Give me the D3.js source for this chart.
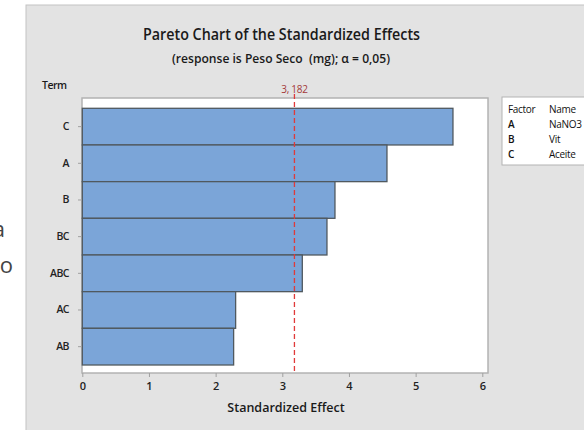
<!DOCTYPE html>
<html>
<head>
<meta charset="utf-8">
<script src="https://cdn.jsdelivr.net/npm/d3@7"></script>
<style>
  body { margin: 0; background: #fff; }
  svg { display: block; font-family: "Open Sans", "Noto Sans", sans-serif; }
</style>
</head>
<body>
<div id="chart"></div>
<script>
// data
var terms = ["C", "A", "B", "BC", "ABC", "AC", "AB"];
var effects = [5.56, 4.57, 3.79, 3.67, 3.30, 2.30, 2.27];
var xTicks = [0, 1, 2, 3, 4, 5, 6];
var critical = 3.182;
var factorCodes = ["A", "B", "C"];
var factorNames = ["NaNO3", "Vit", "Aceite"];

var W = 584, H = 430;
var plot = { left: 82, top: 98, right: 488, bottom: 373 };

var svg = d3.select("#chart").append("svg")
  .attr("width", W).attr("height", H);

// stray letters from the cropped screenshot at the left edge
svg.append("text").attr("x", 5).attr("y", 237).attr("text-anchor", "end")
  .style("font-size", "22px").style("fill", "#444").text("a");
svg.append("text").attr("x", 13).attr("y", 273).attr("text-anchor", "end")
  .style("font-size", "22px").style("fill", "#444").text("o");

// grey panel
svg.append("rect").attr("x", 26).attr("y", 5).attr("width", W).attr("height", H)
  .style("fill", "#e3e3e3").style("stroke", "#c4c4c4").style("stroke-width", 1);

// titles
svg.append("text").attr("x", 143).attr("y", 40)
  .attr("textLength", 277).attr("lengthAdjust", "spacingAndGlyphs")
  .style("font-size", "16.5px").style("font-weight", 600).style("fill", "#1a1a1a")
  .text("Pareto Chart of the Standardized Effects");
svg.append("text").attr("x", 172).attr("y", 63)
  .attr("textLength", 218).attr("lengthAdjust", "spacingAndGlyphs")
  .style("font-size", "12.5px").style("font-weight", 600).style("fill", "#1a1a1a")
  .style("white-space", "pre")
  .text("(response is Peso Seco  (mg); \u03b1 = 0,05)");

var x = d3.scaleLinear().domain([0, 6]).range([82.3, 482.3]);
var y = d3.scaleBand().domain(terms).range([108.3, 365]).padding(0);

// plot area
svg.append("rect")
  .attr("x", plot.left).attr("y", plot.top)
  .attr("width", plot.right - plot.left).attr("height", plot.bottom - plot.top)
  .style("fill", "#fff").style("stroke", "#b3b3b3").style("stroke-width", 1.5);

// bars
svg.selectAll("rect.bar")
  .data(terms)
  .enter()
  .append("rect")
  .attr("class", "bar")
  .attr("x", x(0))
  .attr("y", function (d) { return y(d); })
  .attr("width", function (d, i) { return x(effects[i]) - x(0); })
  .attr("height", y.bandwidth())
  .style("fill", "#7ba5d8")
  .style("stroke", "#50595f")
  .style("stroke-width", 1.3);

// reference line
svg.append("line")
  .attr("x1", x(critical)).attr("x2", x(critical))
  .attr("y1", plot.top - 4).attr("y2", plot.bottom)
  .style("stroke", "#e03a3a").style("stroke-width", 1.3)
  .style("stroke-dasharray", "5,3");
svg.append("text").attr("x", x(critical)).attr("y", 93).attr("text-anchor", "middle")
  .style("font-size", "10px").style("fill", "#a33a3a").style("letter-spacing", "-0.3px")
  .text("3, 182");

// x axis
var xAxis = svg.append("g")
  .attr("transform", "translate(0," + plot.bottom + ")")
  .call(d3.axisBottom(x).tickValues(xTicks).tickFormat(d3.format("d"))
    .tickSize(4).tickSizeOuter(0));
xAxis.select(".domain").remove();
xAxis.selectAll("line").style("stroke", "#a0a0a0");
xAxis.selectAll("text").attr("dy", "0.9em")
  .style("font-size", "11px").style("font-weight", 600).style("fill", "#222")
  .style("font-family", "'Open Sans', sans-serif");

// y axis
var yAxis = svg.append("g")
  .attr("transform", "translate(" + plot.left + ",0)")
  .call(d3.axisLeft(y).tickSize(4).tickPadding(9).tickSizeOuter(0));
yAxis.select(".domain").remove();
yAxis.selectAll("line").style("stroke", "#a0a0a0");
yAxis.selectAll("text")
  .style("font-size", "10.5px").style("font-weight", 600).style("fill", "#222")
  .style("letter-spacing", "-0.5px")
  .style("font-family", "'Open Sans', sans-serif");

// axis titles
svg.append("text").attr("x", 286).attr("y", 412).attr("text-anchor", "middle")
  .style("font-size", "12.5px").style("font-weight", 600).style("fill", "#1a1a1a")
  .text("Standardized Effect");
svg.append("text").attr("x", 42).attr("y", 89)
  .style("font-size", "10.5px").style("font-weight", 600).style("fill", "#1a1a1a")
  .style("letter-spacing", "-0.5px")
  .text("Term");

// legend box, cut off at the right edge
var lg = svg.append("g").attr("transform", "translate(502,97)");
lg.append("rect").attr("width", 100).attr("height", 68)
  .style("fill", "#fff").style("stroke", "#b3b3b3").style("stroke-width", 1);
lg.append("text").attr("x", 6).attr("y", 16).style("font-size", "10px")
  .style("fill", "#111").style("letter-spacing", "-0.3px").text("Factor");
lg.append("text").attr("x", 47).attr("y", 16).style("font-size", "10px")
  .style("fill", "#111").style("letter-spacing", "-0.3px").text("Name");
factorCodes.forEach(function (c, i) {
  lg.append("text").attr("x", 6).attr("y", 31 + i * 15).style("font-size", "10px")
    .style("fill", "#111").style("font-weight", 600).text(c);
  lg.append("text").attr("x", 47).attr("y", 31 + i * 15).style("font-size", "10px")
    .style("fill", "#111").style("letter-spacing", "-0.3px").text(factorNames[i]);
});
</script>
</body>
</html>
